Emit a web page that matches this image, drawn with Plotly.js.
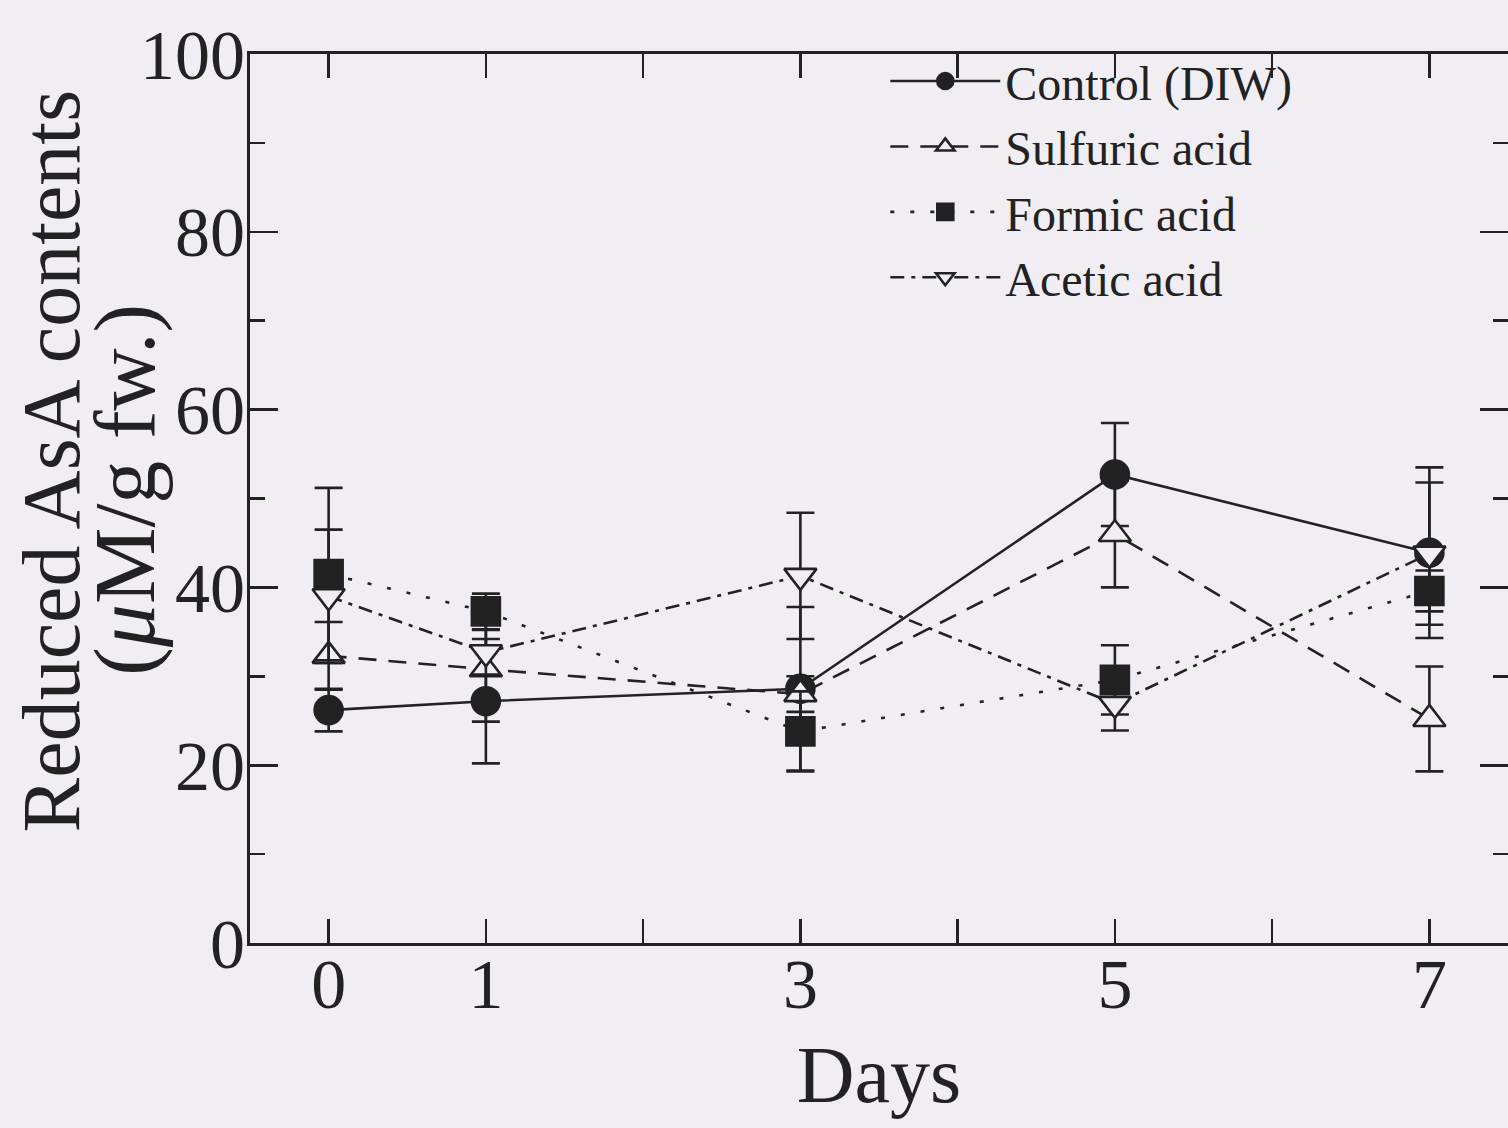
<!DOCTYPE html>
<html>
<head>
<meta charset="utf-8">
<script src="https://cdn.plot.ly/plotly-3.0.1.min.js"></script>
<style>
  html, body { margin: 0; padding: 0; background: #f1eef3; }
  #chart { width: 1508px; height: 1128px; }
</style>
</head>
<body>
<div id="chart"></div>
<script>
// Reduced AsA contents over storage days, mean ± error per treatment
const days = [0, 1, 3, 5, 7];

const controlMean   = [26.2, 27.2, 28.6, 52.7, 43.9];
const controlErr    = [2.4, 7.0, 9.2, 5.8, 9.6];

const sulfuricMean  = [32.3, 30.8, 28.0, 46.0, 25.2];
const sulfuricErr   = [3.8, 5.9, 2.0, 6.0, 5.9];

const formicMean    = [41.5, 37.3, 23.8, 29.6, 39.6];
const formicErr     = [9.7, 2.0, 4.5, 3.9, 2.3];

const aceticMean    = [39.0, 32.7, 41.3, 26.9, 43.8];
const aceticErr     = [7.5, 2.5, 7.1, 3.0, 8.0];

const seriesNames = ['Control (DIW)', 'Sulfuric acid', 'Formic acid', 'Acetic acid'];

const dayTickVals = [0, 1, 2, 3, 4, 5, 6, 7];
const dayTickText = ['0', '1', '', '3', '', '5', '', '7'];

const ink = '#232223';
const paper = '#f1eef3';
const serif = 'Liberation Serif, Times New Roman, serif';

function series(name, y, err, symbol, fill, dash) {
  return {
    type: 'scatter',
    mode: 'lines+markers',
    name: name,
    x: days,
    y: y,
    error_y: { type: 'data', array: err, visible: true, color: ink, thickness: 2.6, width: 14 },
    line: { color: ink, width: 2.6, dash: dash },
    marker: { symbol: symbol, size: 28, color: fill, line: { color: ink, width: 2.6 } }
  };
}

const traces = [
  series(seriesNames[0], controlMean, controlErr, 'circle', ink, 'solid'),
  series(seriesNames[1], sulfuricMean, sulfuricErr, 'triangle-up', paper, '18px,12px'),
  series(seriesNames[2], formicMean, formicErr, 'square', ink, '4px,16px'),
  series(seriesNames[3], aceticMean, aceticErr, 'triangle-down', paper, '14px,7px,4px,7px')
];

const layout = {
  width: 1508,
  height: 1128,
  margin: { l: 250, r: 0, t: 54, b: 185 },
  paper_bgcolor: paper,
  plot_bgcolor: paper,
  font: { family: serif, color: ink, size: 48 },
  showlegend: true,
  legend: {
    x: 0.505, y: 1.012, xanchor: 'left', yanchor: 'top',
    bgcolor: 'rgba(0,0,0,0)',
    font: { family: serif, size: 48, color: ink },
    itemwidth: 110,
    tracegroupgap: 0
  },
  xaxis: {
    range: [-0.5, 7.5],
    tickmode: 'array',
    tickvals: dayTickVals,
    ticktext: dayTickText,
    ticks: 'inside',
    ticklen: 24,
    tickwidth: 2.6,
    tickcolor: ink,
    ticklabelstandoff: -22,
    showline: true,
    linewidth: 3,
    linecolor: ink,
    mirror: 'ticks',
    showgrid: false,
    zeroline: false,
    tickfont: { family: serif, size: 70, color: ink },
    title: { text: 'Days', font: { family: serif, size: 80, color: ink }, standoff: 24 }
  },
  yaxis: {
    range: [0, 100],
    dtick: 20,
    ticks: 'inside',
    ticklen: 28,
    tickwidth: 2.6,
    tickcolor: ink,
    ticklabelstandoff: -12,
    minor: { dtick: 10, ticks: 'inside', ticklen: 15, tickwidth: 2.6, tickcolor: ink, showgrid: false },
    showline: true,
    linewidth: 3,
    linecolor: ink,
    mirror: 'ticks',
    showgrid: false,
    zeroline: false,
    tickfont: { family: serif, size: 70, color: ink }
  },
  annotations: [
    {
      text: 'Reduced AsA contents',
      xref: 'paper', yref: 'paper',
      x: -0.158, y: 0.542, xanchor: 'center', yanchor: 'middle',
      textangle: -90, showarrow: false,
      font: { family: serif, size: 82, color: ink }
    },
    {
      text: '(<i>μ</i>M/g fw.)',
      xref: 'paper', yref: 'paper',
      x: -0.1, y: 0.51, xanchor: 'center', yanchor: 'middle',
      textangle: -90, showarrow: false,
      font: { family: serif, size: 86, color: ink }
    }
  ]
};

Plotly.newPlot('chart', traces, layout, { displayModeBar: false, staticPlot: true });
</script>
</body>
</html>
